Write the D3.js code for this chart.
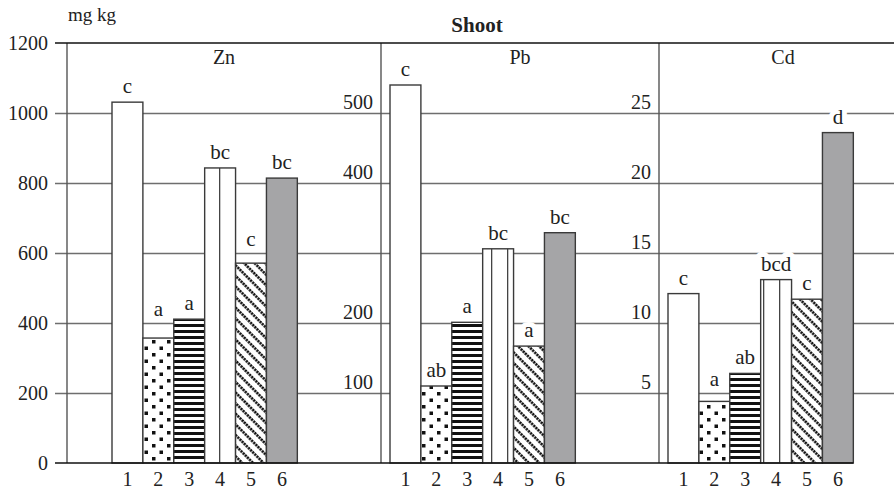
<!DOCTYPE html>
<html>
<head>
<meta charset="utf-8">
<script src="https://cdn.jsdelivr.net/npm/d3@7"></script>
<style>
  body { margin: 0; background: #fff; }
  svg { display: block; font-family: "Liberation Serif", "DejaVu Serif", serif; }
</style>
</head>
<body>
<div id="chart"></div>
<script>
var metals = ["Zn", "Pb", "Cd"];
var treatments = ["1", "2", "3", "4", "5", "6"];

var znValues = [1031, 357, 411, 843, 571, 814];
var pbValues = [540, 110, 201, 306, 167, 329];
var cdValues = [12.1, 4.4, 6.4, 13.1, 11.7, 23.6];

var znLetters = ["c", "a", "a", "bc", "c", "bc"];
var pbLetters = ["c", "ab", "a", "bc", "a", "bc"];
var cdLetters = ["c", "a", "ab", "bcd", "c", "d"];

var znTicks = [0, 200, 400, 600, 800, 1000, 1200];
var pbTicks = [100, 200, 400, 500];
var cdTicks = [5, 10, 15, 20, 25];

var width = 894;
var height = 491;

var plot = { top: 43, bottom: 463, left: 67, right: 894, gridStart: 55 };
var serif = "Liberation Serif";
var textColor = "#222";

var svg = d3.select("#chart").append("svg")
  .attr("width", width)
  .attr("height", height);

// patterns for the six treatments
var defs = svg.append("defs");

var dots = defs.append("pattern").attr("id", "p2").attr("patternUnits", "userSpaceOnUse")
  .attr("width", 15).attr("height", 13);
dots.append("rect").attr("width", 15).attr("height", 13).attr("fill", "#fff");
dots.append("rect").attr("x", 2).attr("y", 2).attr("width", 3.5).attr("height", 3.5).attr("fill", "#111");
dots.append("rect").attr("x", 9.5).attr("y", 8.5).attr("width", 3.5).attr("height", 3.5).attr("fill", "#111");

var hstripes = defs.append("pattern").attr("id", "p3").attr("patternUnits", "userSpaceOnUse")
  .attr("width", 8).attr("height", 6);
hstripes.append("rect").attr("width", 8).attr("height", 6).attr("fill", "#fff");
hstripes.append("rect").attr("y", 0).attr("width", 8).attr("height", 3).attr("fill", "#111");

var vstripes = defs.append("pattern").attr("id", "p4").attr("patternUnits", "userSpaceOnUse")
  .attr("width", 16).attr("height", 10);
vstripes.append("rect").attr("width", 16).attr("height", 10).attr("fill", "#fff");
vstripes.append("rect").attr("x", 11).attr("width", 1.3).attr("height", 10).attr("fill", "#444");

var diag = defs.append("pattern").attr("id", "p5").attr("patternUnits", "userSpaceOnUse")
  .attr("width", 7.5).attr("height", 9).attr("patternTransform", "rotate(-45)");
diag.append("rect").attr("width", 7.5).attr("height", 9).attr("fill", "#fff");
diag.append("line").attr("x1", 1.5).attr("y1", 0).attr("x2", 1.5).attr("y2", 9)
  .attr("stroke", "#111").attr("stroke-width", 2.6).attr("stroke-dasharray", "2.2,0.8");

var fills = ["#fff", "url(#p2)", "url(#p3)", "url(#p4)", "url(#p5)", "#a5a5a7"];

var panels = [
  { metal: "Zn", values: znValues, letters: znLetters, ticks: znTicks, max: 1200 },
  { metal: "Pb", values: pbValues, letters: pbLetters, ticks: pbTicks, max: 600 },
  { metal: "Cd", values: cdValues, letters: cdLetters, ticks: cdTicks, max: 30 }
];

// each panel holds 9 bar slots, 6 of them used
var xOuter = d3.scaleBand().domain(metals).range([112, 112 + 3 * 278]);
var xInner = d3.scaleBand().domain(treatments).range([0, xOuter.bandwidth() * 6 / 9]);

var yMain = d3.scaleLinear().domain([0, 1200]).range([plot.bottom, plot.top]);
var gridValues = znTicks.slice(1, -1);

// gridlines
svg.append("g")
  .attr("transform", "translate(" + plot.gridStart + ",0)")
  .call(d3.axisLeft(yMain).tickValues(gridValues).tickSize(-(plot.right - plot.gridStart)).tickFormat(""))
  .call(function(g) { g.select(".domain").remove(); })
  .selectAll("line").attr("stroke", "#6e6e6e").attr("stroke-width", 1.4);

// left axis labels
svg.append("g")
  .attr("transform", "translate(" + (plot.gridStart - 1) + ",0)")
  .call(d3.axisLeft(yMain).tickValues(znTicks).tickSize(0).tickPadding(6).tickFormat(d3.format("d")))
  .call(function(g) { g.select(".domain").remove(); })
  .selectAll("text").attr("font-size", 20).attr("fill", textColor).attr("font-family", serif);

// place letter above a gridline if the line would run through it
function letterY(top) {
  var base = top - 9;
  gridValues.forEach(function(gv) {
    var gy = yMain(gv);
    if (gy >= base - 7 && gy <= base + 3) base = gy - 7;
  });
  return base;
}

panels.forEach(function(p, gi) {
  var y = d3.scaleLinear().domain([0, p.max]).range([plot.bottom, plot.top]);
  var x0 = xOuter(p.metal);
  var left = gi === 0 ? plot.left : x0 - 9;
  var nextLeft = gi < panels.length - 1 ? xOuter(metals[gi + 1]) - 9 : x0 + 239;

  var g = svg.append("g");

  // bars
  g.selectAll("rect.bar").data(p.values).enter().append("rect")
    .attr("class", "bar")
    .attr("x", function(v, i) { return x0 + xInner(treatments[i]); })
    .attr("y", function(v) { return y(v); })
    .attr("width", xInner.bandwidth())
    .attr("height", function(v) { return y(0) - y(v); })
    .attr("fill", function(v, i) { return fills[i]; })
    .attr("stroke", "#3a3a3a")
    .attr("stroke-width", 1.4);

  // panel divider
  g.append("line")
    .attr("x1", left).attr("x2", left)
    .attr("y1", plot.top).attr("y2", plot.bottom)
    .attr("stroke", "#555").attr("stroke-width", 1.4);

  // secondary axis labels for Pb and Cd
  if (gi > 0) {
    g.append("g")
      .attr("transform", "translate(" + (left - 1) + ",0)")
      .call(d3.axisLeft(y).tickValues(p.ticks).tickSize(0).tickPadding(7))
      .call(function(a) { a.select(".domain").remove(); })
      .selectAll("text").attr("font-size", 20).attr("fill", textColor).attr("font-family", serif)
      .attr("dy", "-0.22em");
  }

  // panel title
  g.append("text")
    .attr("x", (left + nextLeft) / 2)
    .attr("y", 64)
    .attr("text-anchor", "middle")
    .attr("font-size", 20)
    .attr("fill", textColor)
    .text(p.metal);

  // significance letters
  g.selectAll("text.letter").data(p.values).enter().append("text")
    .attr("class", "letter")
    .attr("x", function(v, i) { return x0 + xInner(treatments[i]) + xInner.bandwidth() / 2; })
    .attr("y", function(v) { return letterY(y(v)); })
    .attr("text-anchor", "middle")
    .attr("font-size", 21)
    .attr("fill", textColor)
    .attr("stroke", "#fff")
    .attr("stroke-width", 10)
    .attr("stroke-linejoin", "round")
    .attr("paint-order", "stroke")
    .text(function(v, i) { return p.letters[i]; });

  // treatment numbers
  g.append("g")
    .attr("transform", "translate(" + x0 + "," + plot.bottom + ")")
    .call(d3.axisBottom(xInner).tickSize(0).tickPadding(9))
    .call(function(a) { a.select(".domain").remove(); })
    .selectAll("text").attr("font-size", 20).attr("fill", textColor).attr("font-family", serif);
});

// top frame line and baseline
svg.append("line")
  .attr("x1", plot.gridStart).attr("x2", plot.right)
  .attr("y1", yMain(1200)).attr("y2", yMain(1200))
  .attr("stroke", "#111").attr("stroke-width", 1.6);

svg.append("line")
  .attr("x1", plot.gridStart).attr("x2", xOuter("Cd") + xInner.range()[1])
  .attr("y1", yMain(0)).attr("y2", yMain(0))
  .attr("stroke", "#111").attr("stroke-width", 1.6);

// titles
svg.append("text")
  .attr("x", 68).attr("y", 21)
  .attr("font-size", 19)
  .attr("fill", textColor)
  .text("mg kg");

svg.append("text")
  .attr("x", 477).attr("y", 32)
  .attr("text-anchor", "middle")
  .attr("font-size", 21)
  .attr("font-weight", "bold")
  .attr("fill", textColor)
  .text("Shoot");
</script>
</body>
</html>
